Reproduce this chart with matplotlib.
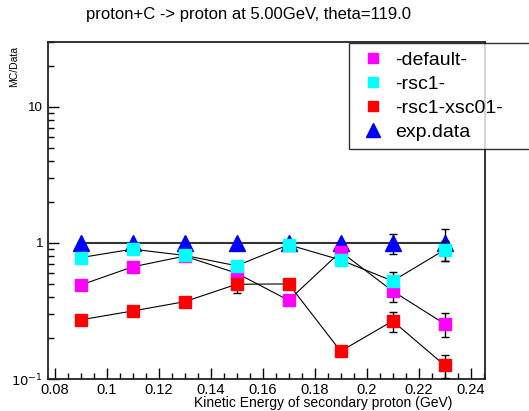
import numpy as np
import matplotlib.pyplot as plt
from matplotlib.ticker import FixedLocator, NullFormatter, MultipleLocator, FixedFormatter

plt.rcParams['font.family'] = ['Liberation Sans', 'DejaVu Sans']

# kinetic energy bins (GeV)
energy = [0.09, 0.11, 0.13, 0.15, 0.17, 0.19, 0.21, 0.23]

# MC/Data ratios
default = [0.49, 0.667, 0.80, 0.60, 0.379, 0.863, 0.443, 0.254]
default_err = [0.02, 0.02, 0.02, 0.05, 0.02, 0.03, 0.075, 0.05]
rsc1 = [0.78, 0.90, 0.81, 0.68, 0.97, 0.75, 0.525, 0.89]
rsc1_err = [0.02, 0.02, 0.02, 0.05, 0.02, 0.05, 0.09, 0.15]
rsc1_xsc01 = [0.272, 0.316, 0.37, 0.497, 0.50, 0.160, 0.267, 0.126]
rsc1_xsc01_err = [0.01, 0.01, 0.01, 0.07, 0.02, 0.01, 0.045, 0.025]
expdata = [1, 1, 1, 1, 1, 1, 1, 1]
expdata_err = [0.02, 0.02, 0.02, 0.02, 0.02, 0.02, 0.17, 0.26]

fig = plt.figure(figsize=(5.29, 4.11), dpi=100)
ax = fig.add_axes([48/529, 1 - 379/411, (485-48)/529, (379-42)/411])

eb = dict(ecolor='black', elinewidth=1.0, capsize=3, capthick=1.0, linestyle='none')
# exp data first (drawn underneath)
ax.plot(energy, expdata, color='#333333', lw=1.5, zorder=2)
ax.errorbar(energy, expdata, yerr=expdata_err, fmt='^', color='blue', ms=11,
            label='exp.data', zorder=3, **eb)

series = [(default, default_err, 'magenta', '-default-'),
          (rsc1, rsc1_err, 'cyan', '-rsc1-'),
          (rsc1_xsc01, rsc1_xsc01_err, 'red', '-rsc1-xsc01-')]
handles = []
for vals, errs, col, lab in series:
    ax.plot(energy, vals, color='black', lw=0.8, zorder=4)
    ax.errorbar(energy, vals, yerr=errs, fmt='s', color=col, ms=8, mec=col,
                zorder=5, **eb)
    handles.append(plt.Line2D([], [], marker='s', color=col, ls='none', ms=7))
handles.append(plt.Line2D([], [], marker='^', color='blue', ls='none', ms=10))
labels = ['-default-', '-rsc1-', '-rsc1-xsc01-', 'exp.data']

ax.set_yscale('log')
ax.set_ylim(0.1, 30)
ax.set_xlim(0.0775, 0.2455)

ax.xaxis.set_major_locator(MultipleLocator(0.02))
ax.xaxis.set_minor_locator(MultipleLocator(0.005))
ax.xaxis.set_major_formatter(plt.FuncFormatter(lambda v, p: ('%g' % round(v, 3))))
ax.yaxis.set_major_locator(FixedLocator([0.1, 1, 10]))
ax.yaxis.set_major_formatter(FixedFormatter(['$10^{-1}$', '1', '10']))
ax.yaxis.set_minor_locator(FixedLocator([k * 10.0**e for e in (-1, 0, 1) for k in range(2, 10)]))
ax.yaxis.set_minor_formatter(NullFormatter())
ax.tick_params(which='both', direction='in', top=False, right=False, colors='black')
ax.tick_params(axis='x', labelsize=10.5, pad=3)
ax.tick_params(axis='y', labelsize=9.5)
ax.tick_params(which='major', length=8, width=1)
ax.tick_params(which='minor', length=4, width=1)
for s in ax.spines.values():
    s.set_linewidth(1.3)
    s.set_color('#222222')

fig.text(249/529, 1 - 14/411, 'proton+C -> proton at 5.00GeV, theta=119.0',
         ha='center', va='center', fontsize=12)
fig.text(14/529, 1 - 46/411, 'MC/Data', rotation=90, ha='center', va='top', fontsize=7.5)
fig.text(452/529, 1 - 403/411, 'Kinetic Energy of secondary proton (GeV)',
         ha='right', va='center', fontsize=10)

leg = fig.legend(handles, labels, loc='upper left',
                 bbox_to_anchor=(349/529, 1 - 147/411, 200/529, 104/411), mode='expand',
                 frameon=True, fancybox=False, fontsize=14, handlelength=1.6,
                 handletextpad=0.35, borderpad=0.42, labelspacing=0.33, borderaxespad=0)
leg.get_frame().set_edgecolor('black')
leg.get_frame().set_linewidth(1.0)
leg.set_zorder(10)

fig.savefig('out.png', dpi=100)
